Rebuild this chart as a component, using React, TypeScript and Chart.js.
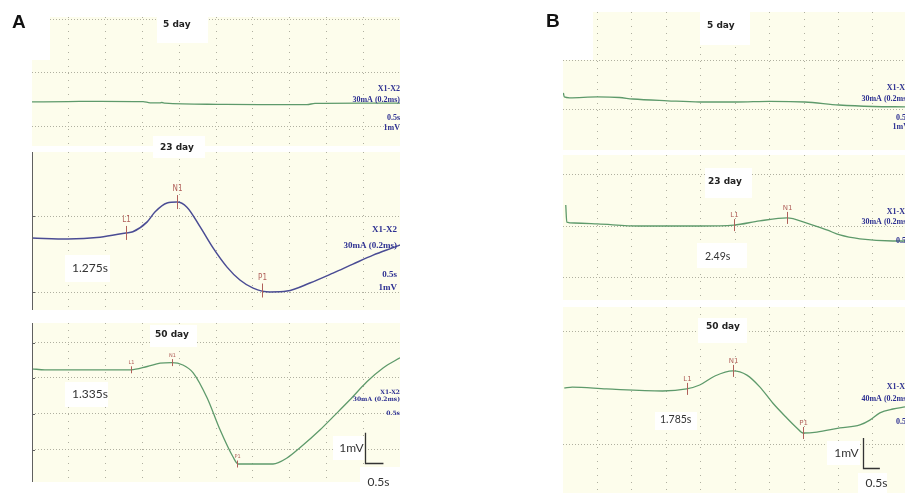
import React, { useEffect, useRef } from "react";
import { Chart, registerables } from "chart.js";
Chart.register(...registerables);

const FIG_W = 905;
const FIG_H = 493;

// ---------- data (time in s, potential in mV, relative to baseline) ----------
const a5Time = [0, 0.98, 1.85, 3.02, 3.21, 3.48, 3.53, 3.61, 5.03, 6.2, 7.47, 7.69, 8.91, 10];
const a5Volt = [0, 0.01, 0.02, 0.01, -0.03, -0.03, -0.02, -0.04, -0.08, -0.09, -0.09, -0.05, -0.04, -0.04];

const a23Time = [0, 0.98, 1.85, 2.55, 2.74, 3.13, 3.34, 3.67, 3.94, 4.21, 4.57, 4.92, 5.3, 5.65, 6.01, 6.47, 6.93, 7.55, 8.18, 8.72, 9.27, 9.92, 10];
const a23Volt = [0, -0.03, 0.03, 0.17, 0.21, 0.54, 0.87, 1.17, 1.2, 1.03, 0.37, -0.33, -0.97, -1.4, -1.67, -1.8, -1.77, -1.5, -1.17, -0.87, -0.57, -0.27, -0.23];

const a50Time = [0, 0.35, 2.69, 3.13, 3.48, 3.8, 4.1, 4.38, 4.76, 5.11, 5.46, 5.6, 6.55, 6.93, 7.28, 7.83, 8.18, 8.64, 9.1, 9.54, 10];
const a50Volt = [0, -0.03, -0.03, 0.08, 0.19, 0.21, 0.13, -0.13, -0.97, -2.03, -2.93, -3.17, -3.17, -2.97, -2.63, -2.03, -1.6, -1.03, -0.43, 0.03, 0.37];

const b5Time = [0.01, 0.04, 0.19, 1, 1.64, 2.02, 3.04, 3.97, 5.04, 6.0, 7.02, 8.01, 9.0, 9.93];
const b5Volt = [0.13, 0, -0.03, 0, -0.02, -0.07, -0.13, -0.17, -0.17, -0.15, -0.17, -0.27, -0.32, -0.33];

const b23Time = [0.08, 0.11, 0.33, 1, 2.22, 3.97, 4.96, 5.71, 6.5, 7.08, 7.66, 8.04, 8.62, 9.58, 9.93];
const b23Volt = [0.6, 0.03, 0, -0.03, -0.1, -0.1, -0.07, 0.07, 0.17, 0, -0.23, -0.4, -0.53, -0.6, -0.6];

const b50Time = [0.04, 0.27, 1.26, 2.89, 3.59, 3.97, 4.41, 4.93, 5.34, 5.72, 6.09, 6.5, 6.79, 6.97, 7.37, 8.04, 8.62, 8.91, 9.2, 9.58, 9.93];
const b50Volt = [0, 0.03, -0.03, -0.1, -0.03, 0.1, 0.4, 0.57, 0.43, 0.03, -0.5, -1, -1.33, -1.5, -1.47, -1.33, -1.23, -1.07, -0.83, -0.7, -0.63];

// markers: [name, time, value]
const a23Markers = [["L1", 2.55, 0.17], ["N1", 3.94, 1.2], ["P1", 6.24, -1.75]];
const a50Markers = [["L1", 2.69, -0.03], ["N1", 3.8, 0.21], ["P1", 5.57, -3.17]];
const b23Markers = [["L1", 4.96, -0.07], ["N1", 6.5, 0.17]];
const b50Markers = [["L1", 3.59, -0.03], ["N1", 4.93, 0.57], ["P1", 6.97, -1.5]];

// grid ticks
const xGridTicks = [1, 2, 3, 4, 5, 6, 7, 8, 9];
const a5YTicks = [2.73, 0.97, -0.83];
const a23YTicks = [0.73, -1.8];
const a50YTicks = [0.87, -0.3, -1.5, -2.7];
const b5YTicks = [1.23, -0.43];
const b23YTicks = [1.63, -0.1, -1.83];
const b50YTicks = [1.87, -1.87];

// labels
const stimLabels5 = ["X1-X2", "30mA (0.2ms)", "0.5s", "1mV"];
const stimLabelsA50 = ["X1-X2", "30mA (0.2ms)", "0.5s"];
const stimLabelsB23 = ["X1-X2", "30mA (0.2ms)", "0.5s"];
const stimLabelsB50 = ["X1-X2", "40mA (0.2ms)", "0.5s"];
const latencyA23 = "1.275s";
const latencyA50 = "1.335s";
const latencyB23 = "2.49s";
const latencyB50 = "1.785s";
const scaleBarVolt = 1; // mV
const scaleBarTime = 0.5; // s

// ---------- styles ----------
const BG = "#fdfdec";
const GREEN = "#5e9a6b";
const NAVY = "#4a4c94";
const LABEL_BLUE = "#2e3192";
const MARK = "#b0605a";
const GRID = "#b0b0a0";

type Panel = any;

const panels: Panel[] = [
  {
    id: "a5", time: a5Time, volt: a5Volt, color: GREEN, lw: 1.3,
    rect: { left: 32, top: 17, right: 400, bottom: 146 }, xMax: 10, yMin: -1.47, yMax: 2.83, yTicks: a5YTicks,
    leftLine: false, corner: [32, 17, 18, 43],
    letter: { text: "A", x: 12, y: 23 },
    header: { text: "5 day", box: [157, 15, 51, 28], tx: 163, ty: 25 },
    right: { x: 400, font: 'bold 8px "Liberation Serif"', items: stimLabels5, ys: [89, 99.5, 118, 128] },
    markers: [],
  },
  {
    id: "a23", time: a23Time, volt: a23Volt, color: NAVY, lw: 1.5,
    rect: { left: 32, top: 152, right: 400, bottom: 310 }, xMax: 10, yMin: -2.4, yMax: 2.87, yTicks: a23YTicks,
    leftLine: true,
    header: { text: "23 day", box: [153, 136, 52, 22], tx: 160, ty: 148 },
    value: { text: latencyA23, box: [65, 255, 45, 27], tx: 72, ty: 268, font: '12px Lato' },
    right: { x: 397, font: 'bold 9px "Liberation Serif"', items: stimLabels5, ys: [230, 246, 275, 288] },
    markers: a23Markers, mk: { above: 13, half: 7, font: '8px "DejaVu Sans Condensed", "DejaVu Sans"' },
  },
  {
    id: "a50", time: a50Time, volt: a50Volt, color: GREEN, lw: 1.3,
    rect: { left: 32, top: 323, right: 400, bottom: 482 }, xMax: 10, yMin: -3.77, yMax: 1.53, yTicks: a50YTicks,
    leftLine: true,
    header: { text: "50 day", box: [150, 325, 47, 22], tx: 155, ty: 335 },
    value: { text: latencyA50, box: [65, 382, 43, 25], tx: 72, ty: 394, font: '12px Lato' },
    right: { x: 400, font: 'bold 6px "DejaVu Serif"', items: stimLabelsA50, ys: [392, 399, 413] },
    markers: a50Markers, mk: { above: 7, half: 3.5, font: '5px "DejaVu Sans"' },
    bar: { t: 9.05, v: -3.13, mvDx: -2, tDy: 19, mvBox: [333, 436, 31, 24], tBox: [360, 467, 40, 26], font: '12px Lato' },
  },
  {
    id: "b5", time: b5Time, volt: b5Volt, color: GREEN, lw: 1.3,
    rect: { left: 563, top: 12, right: 905, bottom: 150 }, xMax: 9.93, yMin: -1.77, yMax: 2.83, yTicks: b5YTicks,
    leftLine: false, corner: [563, 12, 30, 48],
    letter: { text: "B", x: 546, y: 22 },
    header: { text: "5 day", box: [700, 12, 50, 33], tx: 707, ty: 26 },
    right: { x: 909, font: 'bold 8px "Liberation Serif"', items: stimLabels5, ys: [88, 99, 118, 127] },
    markers: [],
  },
  {
    id: "b23", time: b23Time, volt: b23Volt, color: GREEN, lw: 1.3,
    rect: { left: 563, top: 155, right: 905, bottom: 300 }, xMax: 9.93, yMin: -2.57, yMax: 2.27, yTicks: b23YTicks,
    leftLine: false,
    header: { text: "23 day", box: [705, 168, 47, 30], tx: 708, ty: 182 },
    value: { text: latencyB23, box: [697, 243, 50, 25], tx: 705, ty: 257, font: '10.5px Lato' },
    right: { x: 909, font: 'bold 8px "Liberation Serif"', items: stimLabelsB23, ys: [212, 222, 241] },
    markers: b23Markers, mk: { above: 10, half: 6, font: '7px "DejaVu Sans"' },
  },
  {
    id: "b50", time: b50Time, volt: b50Volt, color: GREEN, lw: 1.3,
    rect: { left: 563, top: 307, right: 905, bottom: 493 }, xMax: 9.93, yMin: -3.5, yMax: 2.7, yTicks: b50YTicks,
    leftLine: false,
    header: { text: "50 day", box: [698, 318, 49, 25], tx: 706, ty: 327 },
    value: { text: latencyB50, box: [655, 412, 42, 18], tx: 660, ty: 420, font: '10.5px Lato' },
    right: { x: 909, font: 'bold 8px "Liberation Serif"', items: stimLabelsB50, ys: [387, 399, 422] },
    markers: b50Markers, mk: { above: 10, half: 6, font: '7px "DejaVu Sans"' },
    bar: { t: 8.7, v: -2.67, mvDx: -5, tDy: 15, mvBox: [827, 441, 33, 24], tBox: [858, 473, 29, 20], font: '12px Lato' },
  },
];

function panelPlugin(p: Panel) {
  return {
    id: "panel_" + p.id,
    beforeDraw(chart: any) {
      const { ctx, chartArea: a } = chart;
      ctx.save();
      ctx.fillStyle = BG;
      ctx.fillRect(a.left, a.top, a.right - a.left, a.bottom - a.top);
      ctx.restore();
    },
    beforeDatasetsDraw(chart: any) {
      if (!p.corner) return;
      const { ctx } = chart;
      ctx.save();
      ctx.fillStyle = "#ffffff";
      ctx.fillRect(p.corner[0], p.corner[1], p.corner[2], p.corner[3]);
      ctx.restore();
    },
    afterDraw(chart: any) {
      const { ctx, chartArea: a } = chart;
      const xs = chart.scales.x;
      const ys = chart.scales.y;
      ctx.save();
      if (p.leftLine) {
        ctx.strokeStyle = "#606060";
        ctx.lineWidth = 1;
        ctx.beginPath();
        ctx.moveTo(a.left + 0.5, a.top);
        ctx.lineTo(a.left + 0.5, a.bottom);
        p.yTicks.forEach((v: number) => {
          const py = Math.round(ys.getPixelForValue(v)) + 0.5;
          ctx.moveTo(a.left, py);
          ctx.lineTo(a.left + 3, py);
        });
        ctx.stroke();
      }
      if (p.letter) {
        ctx.fillStyle = "#111";
        ctx.font = 'bold 19px "Liberation Sans"';
        ctx.textBaseline = "middle";
        ctx.textAlign = "left";
        ctx.fillText(p.letter.text, p.letter.x, p.letter.y);
      }
      const h = p.header;
      ctx.fillStyle = "#ffffff";
      ctx.fillRect(h.box[0], h.box[1], h.box[2], h.box[3]);
      ctx.fillStyle = "#222";
      ctx.font = 'bold 9px "DejaVu Sans"';
      ctx.textBaseline = "middle";
      ctx.textAlign = "left";
      ctx.fillText(h.text, h.tx, h.ty);
      if (p.value) {
        const v = p.value;
        ctx.fillStyle = "#ffffff";
        ctx.fillRect(v.box[0], v.box[1], v.box[2], v.box[3]);
        ctx.fillStyle = "#333";
        ctx.font = v.font;
        ctx.fillText(v.text, v.tx, v.ty);
      }
      const r = p.right;
      ctx.fillStyle = LABEL_BLUE;
      ctx.font = r.font;
      ctx.textAlign = "right";
      r.items.forEach((t: string, i: number) => ctx.fillText(t, r.x, r.ys[i]));
      if (p.markers.length) {
        ctx.strokeStyle = MARK;
        ctx.fillStyle = MARK;
        ctx.lineWidth = 1;
        ctx.font = p.mk.font;
        ctx.textAlign = "center";
        ctx.textBaseline = "middle";
        p.markers.forEach((m: any) => {
          const px = Math.round(xs.getPixelForValue(m[1])) + 0.5;
          const py = ys.getPixelForValue(m[2]);
          ctx.beginPath();
          ctx.moveTo(px, py - p.mk.half);
          ctx.lineTo(px, py + p.mk.half);
          ctx.stroke();
          ctx.fillText(m[0], px, py - p.mk.above);
        });
      }
      if (p.bar) {
        const b = p.bar;
        const x0 = Math.round(xs.getPixelForValue(b.t)) + 0.5;
        const y0 = Math.round(ys.getPixelForValue(b.v)) + 0.5;
        const yTop = ys.getPixelForValue(b.v + scaleBarVolt);
        const xEnd = xs.getPixelForValue(b.t + scaleBarTime);
        ctx.fillStyle = "#ffffff";
        ctx.fillRect(b.mvBox[0], b.mvBox[1], b.mvBox[2], b.mvBox[3]);
        ctx.fillRect(b.tBox[0], b.tBox[1], b.tBox[2], b.tBox[3]);
        ctx.strokeStyle = "#333";
        ctx.lineWidth = 1.3;
        ctx.beginPath();
        ctx.moveTo(x0, yTop);
        ctx.lineTo(x0, y0);
        ctx.lineTo(xEnd, y0);
        ctx.stroke();
        ctx.fillStyle = "#333";
        ctx.font = b.font;
        ctx.textBaseline = "middle";
        ctx.textAlign = "right";
        ctx.fillText(scaleBarVolt + "mV", x0 + b.mvDx, (yTop + y0) / 2);
        ctx.textAlign = "left";
        ctx.fillText(scaleBarTime + "s", x0 + 2, y0 + b.tDy);
      }
      ctx.restore();
    },
  };
}

function PanelChart({ p }: { p: Panel }) {
  const ref = useRef<HTMLCanvasElement | null>(null);
  useEffect(() => {
    const canvas = ref.current;
    if (!canvas) return;
    const chart = new Chart(canvas, {
      type: "line",
      data: {
        datasets: [
          {
            data: p.time.map((t: number, i: number) => ({ x: t, y: p.volt[i] })),
            borderColor: p.color,
            borderWidth: p.lw,
            pointRadius: 0,
            cubicInterpolationMode: "monotone",
            borderJoinStyle: "round",
            fill: false,
          },
        ],
      },
      options: {
        responsive: false,
        animation: false,
        events: [],
        layout: {
          padding: {
            left: p.rect.left,
            top: p.rect.top,
            right: FIG_W - p.rect.right,
            bottom: FIG_H - p.rect.bottom,
          },
        },
        plugins: { legend: { display: false }, tooltip: { enabled: false }, title: { display: false } },
        scales: {
          x: {
            type: "linear",
            min: 0,
            max: p.xMax,
            afterBuildTicks: (s: any) => {
              s.ticks = xGridTicks.map((v) => ({ value: v }));
            },
            ticks: { display: false },
            grid: { color: GRID, lineWidth: 1, drawTicks: false },
            border: { display: false, dash: [1, 6] },
          },
          y: {
            type: "linear",
            min: p.yMin,
            max: p.yMax,
            afterBuildTicks: (s: any) => {
              s.ticks = p.yTicks.map((v: number) => ({ value: v }));
            },
            ticks: { display: false },
            grid: { color: GRID, lineWidth: 1, drawTicks: false },
            border: { display: false, dash: [1, 2] },
          },
        },
      },
      plugins: [panelPlugin(p)],
    } as any);
    return () => chart.destroy();
  }, [p]);
  return (
    <canvas
      ref={ref}
      width={FIG_W}
      height={FIG_H}
      style={{ position: "absolute", left: 0, top: 0, width: FIG_W, height: FIG_H }}
    />
  );
}

export default function App() {
  return (
    <div
      style={{
        position: "fixed",
        left: 0,
        top: 0,
        width: FIG_W,
        height: FIG_H,
        background: "#ffffff",
        overflow: "hidden",
      }}
    >
      {panels.map((p) => (
        <PanelChart key={p.id} p={p} />
      ))}
    </div>
  );
}
